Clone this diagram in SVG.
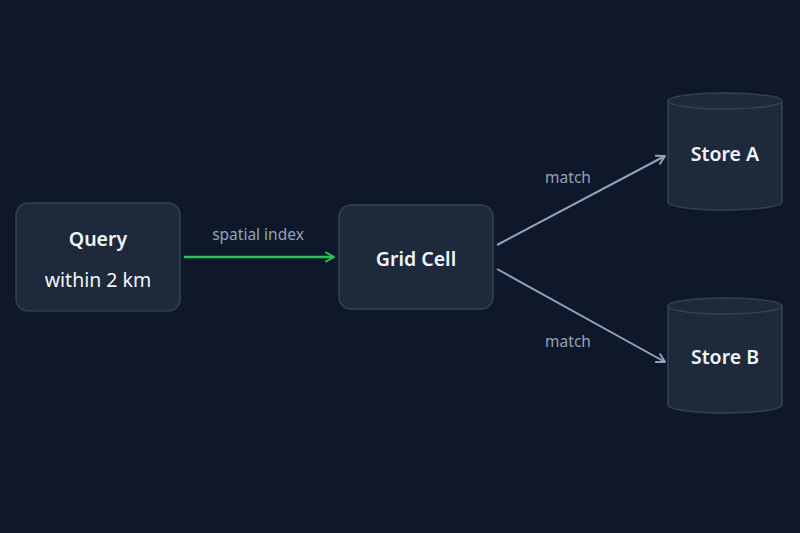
<svg xmlns="http://www.w3.org/2000/svg" width="800" height="533" viewBox="0 0 800 533">
<defs>
<marker id="ag" viewBox="0 0 12 12" refX="10" refY="6" markerWidth="12" markerHeight="12" markerUnits="userSpaceOnUse" orient="auto"><path d="M2,1.5 L10,6 L2,10.5" fill="none" stroke="#22c55e" stroke-width="2" stroke-linecap="round" stroke-linejoin="round"/></marker>
<marker id="aw" viewBox="0 0 12 12" refX="10" refY="6" markerWidth="12" markerHeight="12" markerUnits="userSpaceOnUse" orient="auto"><path d="M2,1.5 L10,6 L2,10.5" fill="none" stroke="#94a3b8" stroke-width="2" stroke-linecap="round" stroke-linejoin="round"/></marker>
</defs>
<style>
.box{fill:#1e293b;stroke:#334155;stroke-width:1.5}
.t{font-family:"Noto Sans","Open Sans",sans-serif;fill:#f1f5f9;text-anchor:middle;font-size:19.5px}
.b{font-weight:600}
.lbl{font-family:"Noto Sans","Open Sans",sans-serif;fill:#94a3b8;text-anchor:middle;font-size:15.5px}
</style>
<rect width="800" height="533" fill="#0f172a"/>
<g id="connectors">
<line x1="184" y1="257" x2="334" y2="257" stroke="#22c55e" stroke-width="2.5" marker-end="url(#ag)"/>
<text class="lbl" x="258" y="240">spatial index</text>
<line x1="497" y1="245" x2="665" y2="156" stroke="#94a3b8" stroke-width="2" marker-end="url(#aw)"/>
<text class="lbl" x="568" y="183">match</text>
<line x1="497" y1="269" x2="665" y2="362" stroke="#94a3b8" stroke-width="2" marker-end="url(#aw)"/>
<text class="lbl" x="568" y="347">match</text>
</g>
<g id="query">
<rect class="box" x="16" y="203" width="164" height="108" rx="12"/>
<text class="t b" x="98" y="246">Query</text>
<text class="t" x="98" y="287">within 2 km</text>
</g>
<g id="grid">
<rect class="box" x="339" y="205" width="154" height="104" rx="12"/>
<text class="t b" x="416" y="266">Grid Cell</text>
</g>
<g id="storeA">
<path class="box" d="M668,101 L668,202 A57,8 0 0 0 782,202 L782,101 A57,8 0 0 0 668,101 Z"/>
<path d="M668,101 A57,8 0 0 0 782,101" fill="none" stroke="#334155" stroke-width="1.5"/>
<text class="t b" x="725" y="161">Store A</text>
</g>
<g id="storeB">
<path class="box" d="M668,306 L668,405 A57,8 0 0 0 782,405 L782,306 A57,8 0 0 0 668,306 Z"/>
<path d="M668,306 A57,8 0 0 0 782,306" fill="none" stroke="#334155" stroke-width="1.5"/>
<text class="t b" x="725" y="364">Store B</text>
</g>
</svg>
